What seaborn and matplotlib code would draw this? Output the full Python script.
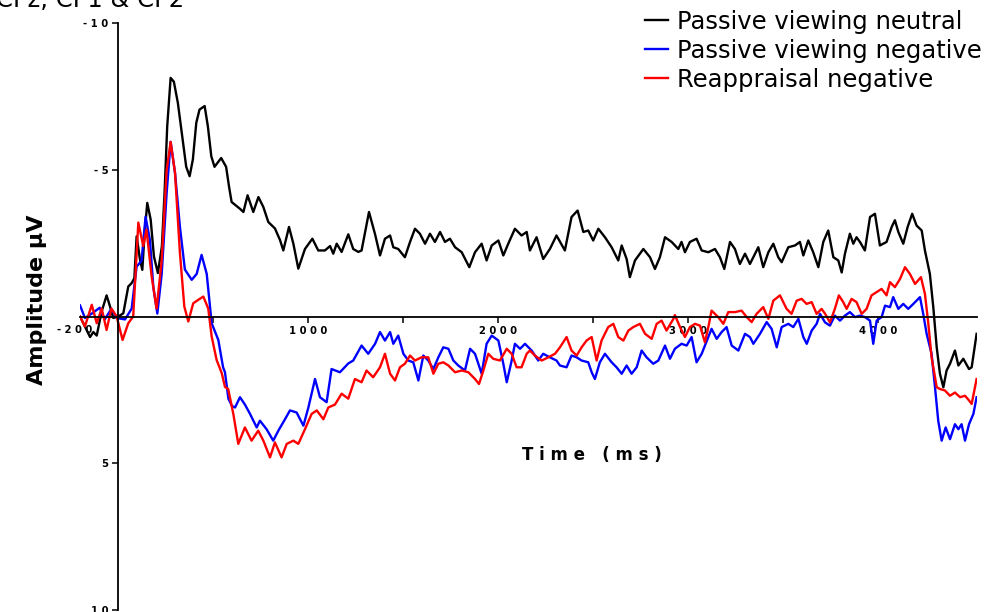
import pandas as pd
import numpy as np
import matplotlib
matplotlib.use("Agg")
import matplotlib.pyplot as plt
import seaborn as sns

# ERP averages over CPz, CP1 & CP2 (microvolts)
conditions = ["Passive viewing neutral", "Passive viewing negative", "Reappraisal negative"]
colors = ["#000000", "#0000ff", "#ff0000"]

neutral_ms = [-200, -174, -147, -130, -112, -86, -60, -42, -25, 2,
              28, 54, 72, 86, 98, 116, 128, 140, 154, 172,
              189, 210, 231, 245, 259, 277, 294, 315, 336, 359,
              377, 394, 412, 429, 456, 473, 491, 508, 543, 569,
              585, 598, 642, 660, 682, 712, 739, 765, 791, 826,
              853, 870, 900, 923, 949, 984, 1023, 1054, 1089, 1116,
              1133, 1151, 1177, 1212, 1238, 1265, 1282, 1321, 1353, 1379,
              1405, 1432, 1449, 1475, 1510, 1537, 1563, 1589, 1616, 1642,
              1668, 1695, 1721, 1747, 1774, 1809, 1849, 1879, 1914, 1940,
              1967, 2002, 2028, 2054, 2089, 2124, 2151, 2168, 2203, 2238,
              2273, 2308, 2352, 2387, 2419, 2449, 2475, 2501, 2528, 2563,
              2598, 2633, 2651, 2677, 2694, 2721, 2765, 2800, 2826, 2852,
              2879, 2914, 2949, 2966, 2984, 3010, 3045, 3072, 3107, 3142,
              3168, 3191, 3221, 3247, 3273, 3300, 3326, 3370, 3396, 3423,
              3449, 3475, 3493, 3528, 3563, 3589, 3607, 3633, 3659, 3686,
              3712, 3738, 3765, 3791, 3809, 3826, 3852, 3870, 3887, 3905,
              3931, 3958, 3984, 4010, 4045, 4072, 4089, 4107, 4133, 4156,
              4180, 4203, 4230, 4247, 4273, 4291, 4309, 4326, 4344, 4361,
              4379, 4405, 4423, 4449, 4479, 4493, 4519]
neutral_uv = [0.0, 0.34, 0.7, 0.53, 0.65, -0.17, -0.72, -0.34, 0.05, 0.0,
              -0.11, -1.02, -1.14, -1.3, -2.73, -1.93, -1.59, -2.84, -3.87, -3.3,
              -2.05, -1.48, -2.39, -4.21, -6.48, -8.13, -8.0, -7.28, -6.25, -5.1,
              -4.78, -5.35, -6.6, -7.05, -7.17, -6.48, -5.46, -5.1, -5.4, -5.1,
              -4.4, -3.9, -3.67, -3.56, -4.13, -3.56, -4.07, -3.73, -3.22, -3.0,
              -2.6, -2.25, -3.05, -2.48, -1.63, -2.3, -2.65, -2.25, -2.25, -2.4,
              -2.14, -2.48, -2.2, -2.8, -2.3, -2.2, -2.25, -3.56, -2.8, -2.08,
              -2.65, -2.76, -2.36, -2.3, -2.02, -2.54, -2.99, -2.82, -2.48, -2.82,
              -2.54, -2.88, -2.54, -2.65, -2.36, -2.19, -1.68, -2.19, -2.48, -1.91,
              -2.42, -2.59, -2.08, -2.48, -2.99, -2.76, -2.88, -2.25, -2.7, -1.96,
              -2.3, -2.76, -2.25, -3.39, -3.61, -2.88, -2.93, -2.59, -2.99, -2.7,
              -2.36, -1.91, -2.42, -1.96, -1.34, -1.91, -2.3, -2.02, -1.62, -2.02,
              -2.7, -2.54, -2.3, -2.54, -2.19, -2.54, -2.65, -2.25, -2.19, -2.3,
              -2.02, -1.62, -2.54, -2.3, -1.79, -2.14, -1.79, -2.36, -1.68, -2.19,
              -2.48, -2.02, -1.85, -2.36, -2.42, -2.54, -2.08, -2.59, -2.19, -1.68,
              -2.54, -2.93, -2.02, -1.91, -1.5, -2.14, -2.82, -2.48, -2.7, -2.54,
              -2.25, -3.39, -3.5, -2.42, -2.54, -3.05, -3.28, -2.88, -2.48, -3.05,
              -3.5, -3.1, -2.93, -2.25, -1.45, -0.32, 1.05, 1.95, 2.41, 1.84,
              1.61, 1.16, 1.67, 1.44, 1.79, 1.73, 0.59]

negative_ms = [-200, -174, -138, -96, -70, -35, -7, 37, 72, 98,
               124, 145, 168, 186, 207, 230, 256, 277, 300, 326,
               352, 388, 414, 440, 467, 493, 528, 553, 563, 581,
               600, 616, 642, 668, 695, 730, 747, 782, 817, 844,
               879, 905, 940, 976, 1002, 1037, 1063, 1098, 1124, 1168,
               1212, 1238, 1282, 1317, 1353, 1379, 1405, 1432, 1449, 1475,
               1502, 1528, 1554, 1581, 1607, 1633, 1660, 1686, 1712, 1739,
               1765, 1791, 1826, 1853, 1879, 1914, 1940, 1967, 2002, 2028,
               2046, 2072, 2089, 2116, 2142, 2177, 2212, 2238, 2273, 2308,
               2326, 2361, 2387, 2414, 2440, 2475, 2493, 2510, 2536, 2563,
               2598, 2624, 2651, 2677, 2703, 2730, 2756, 2782, 2817, 2844,
               2879, 2905, 2931, 2966, 2993, 3019, 3045, 3072, 3107, 3124,
               3151, 3177, 3203, 3230, 3265, 3300, 3326, 3344, 3379, 3414,
               3440, 3467, 3493, 3528, 3554, 3581, 3607, 3625, 3651, 3677,
               3695, 3721, 3747, 3773, 3800, 3826, 3852, 3879, 3905, 3931,
               3958, 3975, 3993, 4019, 4037, 4063, 4080, 4107, 4133, 4159,
               4186, 4221, 4238, 4256, 4282, 4300, 4317, 4335, 4356, 4379,
               4405, 4423, 4440, 4458, 4479, 4502, 4519]
negative_uv = [-0.38, 0.05, -0.1, -0.3, 0.1, -0.26, 0.05, 0.1, -0.27, -1.7,
               -1.9, -3.4, -2.6, -1.0, -0.1, -1.45, -4.2, -5.95, -4.9, -3.05,
               -1.6, -1.25, -1.45, -2.1, -1.45, 0.23, 0.8, 1.73, 1.9, 2.8,
               3.05, 3.1, 2.75, 3.0, 3.32, 3.78, 3.55, 3.84, 4.23, 3.89,
               3.5, 3.2, 3.27, 3.72, 3.1, 2.13, 2.75, 2.92, 1.79, 1.9,
               1.6, 1.5, 0.99, 1.27, 0.93, 0.53, 0.82, 0.53, 0.93, 0.65,
               1.27, 1.5, 1.56, 2.18, 1.33, 1.5, 1.79, 1.39, 1.05, 1.1,
               1.5, 1.67, 1.84, 1.1, 1.27, 1.95, 0.93, 0.65, 0.82, 1.61,
               2.24, 1.5, 0.93, 1.1, 0.93, 1.16, 1.5, 1.27, 1.39, 1.5,
               1.67, 1.73, 1.33, 1.39, 1.5, 1.56, 1.9, 2.13, 1.56, 1.27,
               1.56, 1.73, 1.95, 1.67, 1.95, 1.73, 1.16, 1.39, 1.61, 1.5,
               0.99, 1.44, 1.1, 0.93, 0.99, 0.7, 1.56, 1.27, 0.7, 0.42,
               0.76, 0.53, 0.36, 0.99, 1.16, 0.59, 0.7, 0.93, 0.59, 0.19,
               0.42, 1.05, 0.36, 0.25, 0.36, 0.08, 0.7, 0.93, 0.48, 0.25,
               -0.09, 0.2, 0.31, -0.03, 0.14, -0.03, -0.15, 0.02, -0.03, 0.02,
               0.14, 0.93, 0.14, 0.02, -0.37, -0.32, -0.66, -0.26, -0.43, -0.26,
               -0.43, -0.66, -0.09, 0.59, 1.27, 2.41, 3.55, 4.23, 3.78, 4.18,
               3.67, 3.84, 3.67, 4.23, 3.67, 3.32, 2.75]

reappraisal_ms = [-200, -174, -138, -112, -86, -60, -35, -7, 24, 54,
                  80, 107, 133, 150, 177, 203, 230, 256, 277, 300,
                  326, 349, 370, 396, 423, 449, 475, 493, 519, 546,
                  563, 580, 607, 633, 668, 703, 738, 765, 800, 826,
                  861, 888, 923, 949, 984, 1019, 1046, 1081, 1107, 1142,
                  1177, 1212, 1247, 1282, 1308, 1343, 1379, 1405, 1432, 1458,
                  1484, 1510, 1537, 1563, 1598, 1633, 1660, 1686, 1712, 1739,
                  1774, 1809, 1844, 1879, 1900, 1923, 1949, 1975, 2010, 2046,
                  2072, 2098, 2124, 2151, 2168, 2194, 2230, 2265, 2300, 2326,
                  2361, 2387, 2414, 2440, 2466, 2493, 2519, 2545, 2580, 2607,
                  2633, 2660, 2686, 2712, 2747, 2774, 2809, 2835, 2861, 2887,
                  2923, 2931, 2958, 2984, 3010, 3037, 3063, 3089, 3107, 3124,
                  3159, 3186, 3212, 3247, 3282, 3309, 3335, 3361, 3396, 3423,
                  3449, 3484, 3519, 3545, 3572, 3598, 3624, 3651, 3677, 3703,
                  3721, 3747, 3773, 3794, 3817, 3835, 3861, 3887, 3914, 3940,
                  3966, 3993, 4019, 4045, 4063, 4089, 4116, 4142, 4168, 4195,
                  4226, 4247, 4265, 4282, 4309, 4326, 4352, 4379, 4405, 4432,
                  4458, 4479, 4493, 4519]
reappraisal_uv = [0.0, 0.34, -0.4, 0.23, -0.27, 0.46, -0.27, 0.0, 0.8, 0.23,
                  0.0, -3.2, -2.4, -2.96, -1.37, -0.27, -1.9, -4.98, -5.95, -4.9,
                  -2.16, -0.34, 0.17, -0.45, -0.57, -0.68, -0.27, 0.68, 1.48, 1.93,
                  2.4, 2.47, 3.32, 4.34, 3.78, 4.23, 3.89, 4.23, 4.8, 4.29,
                  4.8, 4.34, 4.23, 4.34, 3.84, 3.32, 3.2, 3.5, 3.1, 3.0,
                  2.63, 2.8, 2.13, 2.24, 1.84, 2.07, 1.73, 1.27, 1.95, 2.18,
                  1.73, 1.61, 1.33, 1.5, 1.39, 1.39, 1.95, 1.61, 1.56, 1.67,
                  1.9, 1.84, 1.9, 2.13, 2.3, 1.84, 1.27, 1.44, 1.5, 1.1,
                  1.27, 1.73, 1.73, 1.27, 1.16, 1.33, 1.5, 1.39, 1.27, 1.05,
                  0.7, 1.16, 1.33, 1.05, 0.82, 0.7, 1.5, 0.82, 0.36, 0.25,
                  0.7, 0.82, 0.48, 0.36, 0.25, 0.59, 0.76, 0.25, 0.14, 0.48,
                  0.08, -0.05, 0.36, 0.7, 0.36, 0.25, 0.31, 0.88, 0.36, -0.2,
                  0.02, 0.25, -0.15, -0.15, -0.2, 0.02, 0.19, -0.09, -0.32, 0.08,
                  -0.54, -0.72, -0.26, -0.09, -0.54, -0.6, -0.43, -0.49, -0.09, -0.26,
                  -0.1, 0.2, -0.26, -0.72, -0.49, -0.26, -0.6, -0.49, -0.09, -0.26,
                  -0.72, -0.83, -0.94, -0.72, -1.17, -1.0, -1.28, -1.68, -1.45, -1.11,
                  -1.34, -0.77, 0.25, 1.39, 2.41, 2.47, 2.52, 2.7, 2.59, 2.75,
                  2.7, 2.86, 2.98, 2.13]

x_ticks = [500, 1000, 1500, 2000, 2500, 3000, 3500, 4000]
x_tick_labels = ["", "1000", "", "2000", "", "3000", "", "4000"]
y_ticks = [-10, -5, 5, 10]
y_tick_labels = ["-10", "-5", "5", "10"]


def spaced(s):
    return " ".join(s)


def build_frame():
    parts = []
    for name, ms, uv in zip(conditions,
                            [neutral_ms, negative_ms, reappraisal_ms],
                            [neutral_uv, negative_uv, reappraisal_uv]):
        assert len(ms) == len(uv), name
        parts.append(pd.DataFrame({"ms": ms, "uv": uv, "condition": name}))
    return pd.concat(parts, ignore_index=True)


def main():
    df = build_frame()
    fig = plt.figure(figsize=(10.02, 6.12), dpi=100)
    ax = fig.add_axes([80 / 1002, 2 / 612, 896.8 / 1002, 587 / 612])

    sns.lineplot(data=df, x="ms", y="uv", hue="condition", hue_order=conditions,
                 palette=colors, estimator=None, sort=False, linewidth=1.7, ax=ax)

    ax.set_xlim(-200, 4520)
    ax.set_ylim(10, -10)

    # axes crossing at zero
    for side in ["top", "right"]:
        ax.spines[side].set_visible(False)
    ax.spines["left"].set_position(("data", 0))
    ax.spines["bottom"].set_position(("data", 0))
    ax.spines["left"].set_linewidth(1.3)
    ax.spines["bottom"].set_linewidth(1.3)

    ax.set_xticks(x_ticks)
    ax.set_xticklabels([spaced(t) for t in x_tick_labels], fontsize=7.2, fontweight="bold")
    ax.set_yticks(y_ticks)
    ax.set_yticklabels([spaced(t) for t in y_tick_labels], fontsize=7.2, fontweight="bold")
    ax.tick_params(axis="x", direction="out", length=4.5, width=1.1, pad=2)
    ax.tick_params(axis="y", direction="out", length=4, width=1.1, pad=3)
    ax.text(-228, 0.45, spaced("-200"), fontsize=7.2, fontweight="bold",
            ha="center", va="center")
    ax.set_xlabel("")
    ax.set_ylabel("")

    fig.text(592 / 1002, 1 - 455 / 612, spaced("Time") + "   " + spaced("(ms)"),
             fontsize=12, fontweight="bold", ha="center", va="center")
    fig.text(37 / 1002, 1 - 300 / 612, "Amplitude µV", fontsize=16, fontweight="bold",
             rotation=90, ha="center", va="center")
    fig.text(-0.004, 1 - 7 / 612, "CPz, CP1 & CP2", fontsize=17.5, va="baseline", ha="left")

    handles, labels = ax.get_legend_handles_labels()
    ax.legend(handles, labels, loc="upper left", bbox_to_anchor=(645 / 1002, 1 - 10 / 612),
              bbox_transform=fig.transFigure, frameon=False, fontsize=17.5,
              handlelength=0.95, handletextpad=0.38, labelspacing=0.2,
              borderpad=0, borderaxespad=0)

    fig.savefig("out.png", dpi=100)


if __name__ == "__main__":
    main()
